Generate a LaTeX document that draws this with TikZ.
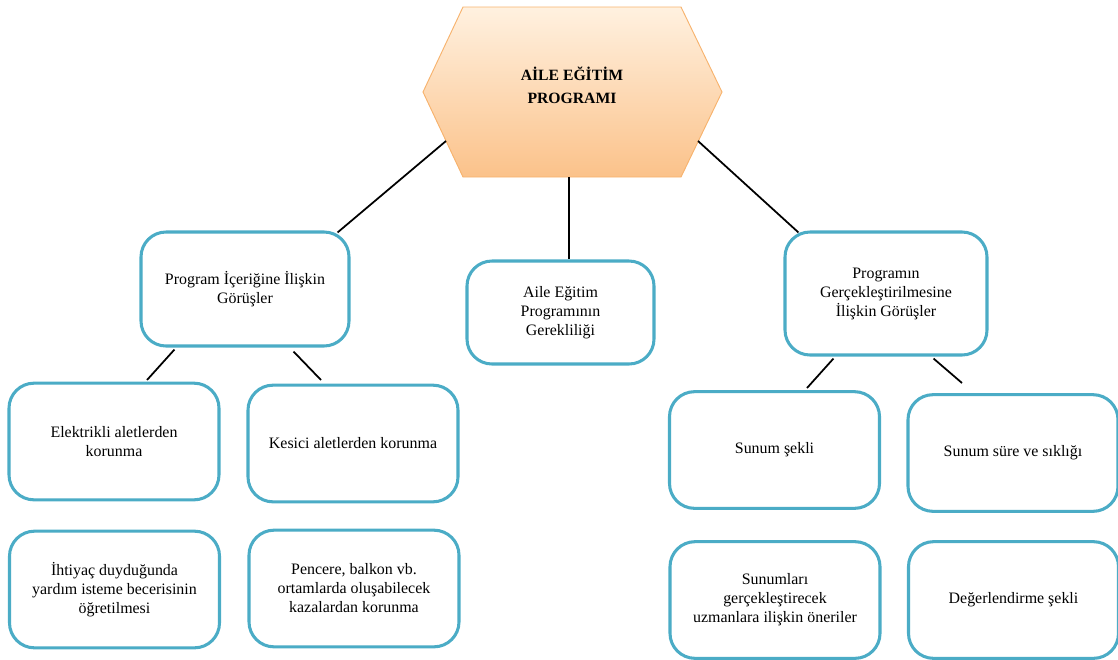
\documentclass[tikz,border=0pt]{standalone}
\usepackage{fontspec}
\setmainfont{Liberation Serif}
\usetikzlibrary{calc}
\definecolor{boxline}{HTML}{4BACC6}
\definecolor{hextop}{HTML}{FFF1E0}
\definecolor{hexbottom}{HTML}{FBC28A}
\definecolor{hexline}{HTML}{F7B36E}

\begin{document}
\begin{tikzpicture}[x=0.03cm,y=-0.03cm,
		box/.style={draw=boxline,line width=2.6pt,rounded corners=0.75cm,fill=white,align=center,
			font=\fontsize{13.6}{16.2}\selectfont,minimum width=6.3cm,minimum height=3.5cm,inner sep=2pt},
		link/.style={line width=1.5pt,black}]
				\useasboundingbox (0,0) rectangle (1118,659);
				\shade[top color=hextop,bottom color=hexbottom,draw=hexline,line width=0.8pt]
					(463,7) -- (681,7) -- (722,92) -- (681,177) -- (463,177) -- (423,92) -- cycle;
				\node[align=center,font=\bfseries\fontsize{13.4}{19.5}\selectfont] (hex) at (572,85) {AİLE EĞİTİM\\PROGRAMI};
				\coordinate (hexsw) at (446,141);
				\coordinate (hexs) at (569,177);
				\coordinate (hexse) at (698,141);

				\node[box,minimum width=6.24cm,minimum height=3.42cm] (icerik) at (245,289) {Program İçeriğine İlişkin\\Görüşler};
				\node[box,minimum width=5.61cm,minimum height=3.09cm] (gerek) at (560.5,312.5) {Aile Eğitim\\Programının\\Gerekliliği};
				\node[box,minimum width=6.06cm,minimum height=3.69cm] (gercek) at (886,293.5) {Programın\\Gerçekleştirilmesine\\İlişkin Görüşler};

				\node[box] (elek) at (114,441.5) {Elektrikli aletlerden\\korunma};
				\node[box] (kesici) at (353,443.5) {Kesici aletlerden korunma};
				\node[box] (ihtiyac) at (114.5,589.5) {İhtiyaç duyduğunda\\yardım isteme becerisinin\\öğretilmesi};
				\node[box] (pencere) at (354,588.5) {Pencere, balkon vb.\\ortamlarda oluşabilecek\\kazalardan korunma};

				\node[box] (sekil) at (774.5,450) {Sunum şekli};
				\node[box] (sure) at (1013,453) {Sunum süre ve sıklığı};
				\node[box] (uzman) at (775,600) {Sunumları\\gerçekleştirecek\\uzmanlara ilişkin öneriler};
				\node[box] (deger) at (1013.5,600) {Değerlendirme şekli};

				\coordinate (e1) at (147,380);
				\coordinate (e2) at (321,380);
				\coordinate (e3) at (807,388);
				\coordinate (e4) at (962,383);

				\draw[link] (hexsw) -- ($(icerik.north east)+(-13,2)$);
				\draw[link] (hexs) -- (gerek.north -| hexs);
				\draw[link] (hexse) -- ($(gercek.north west)+(15,2)$);
				\draw[link] ($(icerik.south west)+(35,2)$) -- (e1);
				\draw[link] ($(icerik.south east)+(-57,4)$) -- (e2);
				\draw[link] ($(gercek.south west)+(50,2)$) -- (e3);
				\draw[link] ($(gercek.south east)+(-55,2)$) -- (e4);
			\end{tikzpicture}
\end{document}
